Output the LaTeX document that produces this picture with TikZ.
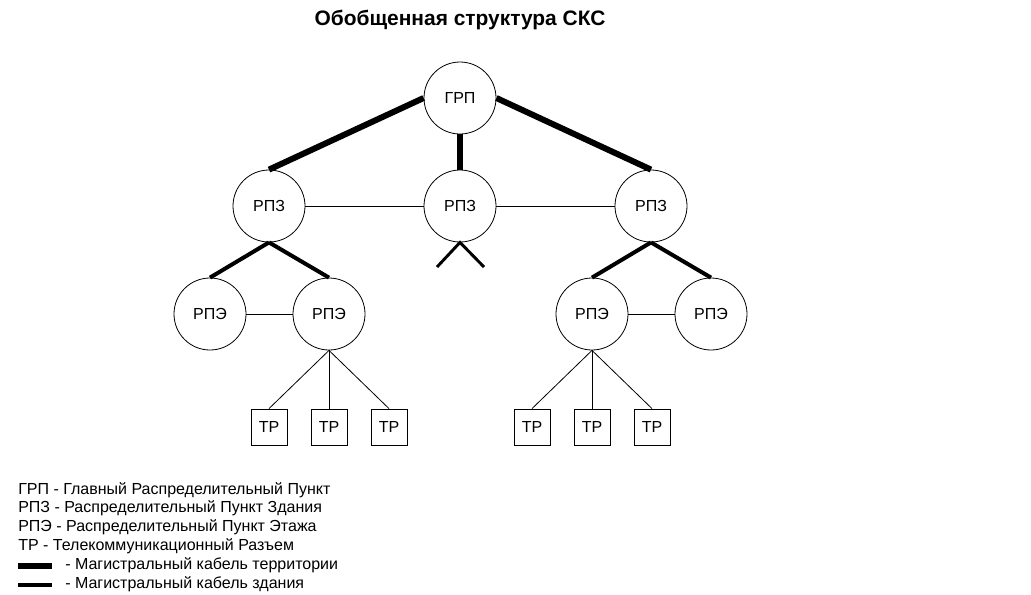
\documentclass[tikz,border=0pt]{standalone}
\usepackage{fontspec}
\setmainfont{Liberation Sans}
\begin{document}
\begin{tikzpicture}[x=0.75pt,y=-0.75pt,
  uzel/.style={circle,draw,line width=0.6pt,minimum size=54pt,inner sep=0pt,font=\fontsize{12}{14}\selectfont},
  razem/.style={draw,line width=0.6pt,minimum size=27pt,inner sep=0pt,font=\fontsize{12}{14}\selectfont},
  legtext/.style={anchor=west,inner sep=0pt,font=\fontsize{12}{14}\selectfont},
  terr/.style={line width=4.5pt},
  zdan/.style={line width=3pt},
  tonk/.style={line width=0.6pt}]

\useasboundingbox (0,0) rectangle (1031,594);

% Заголовок
\node[font=\bfseries\fontsize{15.7}{18}\selectfont] (title) at (460,20) {Обобщенная структура СКС};

% Узлы
\node[uzel] (grp) at (460,98) {ГРП};
\node[uzel] (rpzL) at (269,206) {РПЗ};
\node[uzel] (rpzM) at (460,206) {РПЗ};
\node[uzel] (rpzR) at (651,206) {РПЗ};
\node[uzel] (rpeA) at (210,314) {РПЭ};
\node[uzel] (rpeB) at (329,314) {РПЭ};
\node[uzel] (rpeC) at (592,314) {РПЭ};
\node[uzel] (rpeD) at (711,314) {РПЭ};

% Разъемы
\node[razem] (tr1) at (269,427) {ТР};
\node[razem] (tr2) at (329,427) {ТР};
\node[razem] (tr3) at (389,427) {ТР};
\node[razem] (tr4) at (532,427) {ТР};
\node[razem] (tr5) at (592,427) {ТР};
\node[razem] (tr6) at (652,427) {ТР};

% Кабель территории
\draw[terr] (grp.west) -- (rpzL.north);
\draw[terr] (grp.south) -- (rpzM.north);
\draw[terr] (grp.east) -- (rpzR.north);

% Кабель здания
\draw[zdan] (rpzL.south) -- (rpeA.north);
\draw[zdan] (rpzL.south) -- (rpeB.north);
\draw[zdan] (rpzR.south) -- (rpeC.north);
\draw[zdan] (rpzR.south) -- (rpeD.north);

% Ответвление от среднего РПЗ
\coordinate (forkL) at (437,267);
\coordinate (forkR) at (484,267);
\draw[line width=2.2pt] (forkL) -- (rpzM.south) -- (forkR);

% Горизонтальные связи
\draw[tonk] (rpzL.east) -- (rpzM.west);
\draw[tonk] (rpzM.east) -- (rpzR.west);
\draw[tonk] (rpeA.east) -- (rpeB.west);
\draw[tonk] (rpeC.east) -- (rpeD.west);

% К разъемам
\draw[tonk] (rpeB.south) -- (tr1.north);
\draw[tonk] (rpeB.south) -- (tr2.north);
\draw[tonk] (rpeB.south) -- (tr3.north);
\draw[tonk] (rpeC.south) -- (tr4.north);
\draw[tonk] (rpeC.south) -- (tr5.north);
\draw[tonk] (rpeC.south) -- (tr6.north);

% Легенда
\node[legtext] (leg1) at (18,490) {ГРП - Главный Распределительный Пункт};
\node[legtext] (leg2) at (18,508) {РПЗ - Распределительный Пункт Здания};
\node[legtext] (leg3) at (18,527) {РПЭ - Распределительный Пункт Этажа};
\node[legtext] (leg4) at (18,546) {ТР - Телекоммуникационный Разъем};
\coordinate (sampT) at (18,566);
\coordinate (sampZ) at (18,585);
\draw[terr] (sampT) -- ++(34,0);
\draw[zdan] (sampZ) -- ++(34,0);
\node[legtext] (leg5) at (65,565) {- Магистральный кабель территории};
\node[legtext] (leg6) at (65,584) {- Магистральный кабель здания};

\end{tikzpicture}
\end{document}
